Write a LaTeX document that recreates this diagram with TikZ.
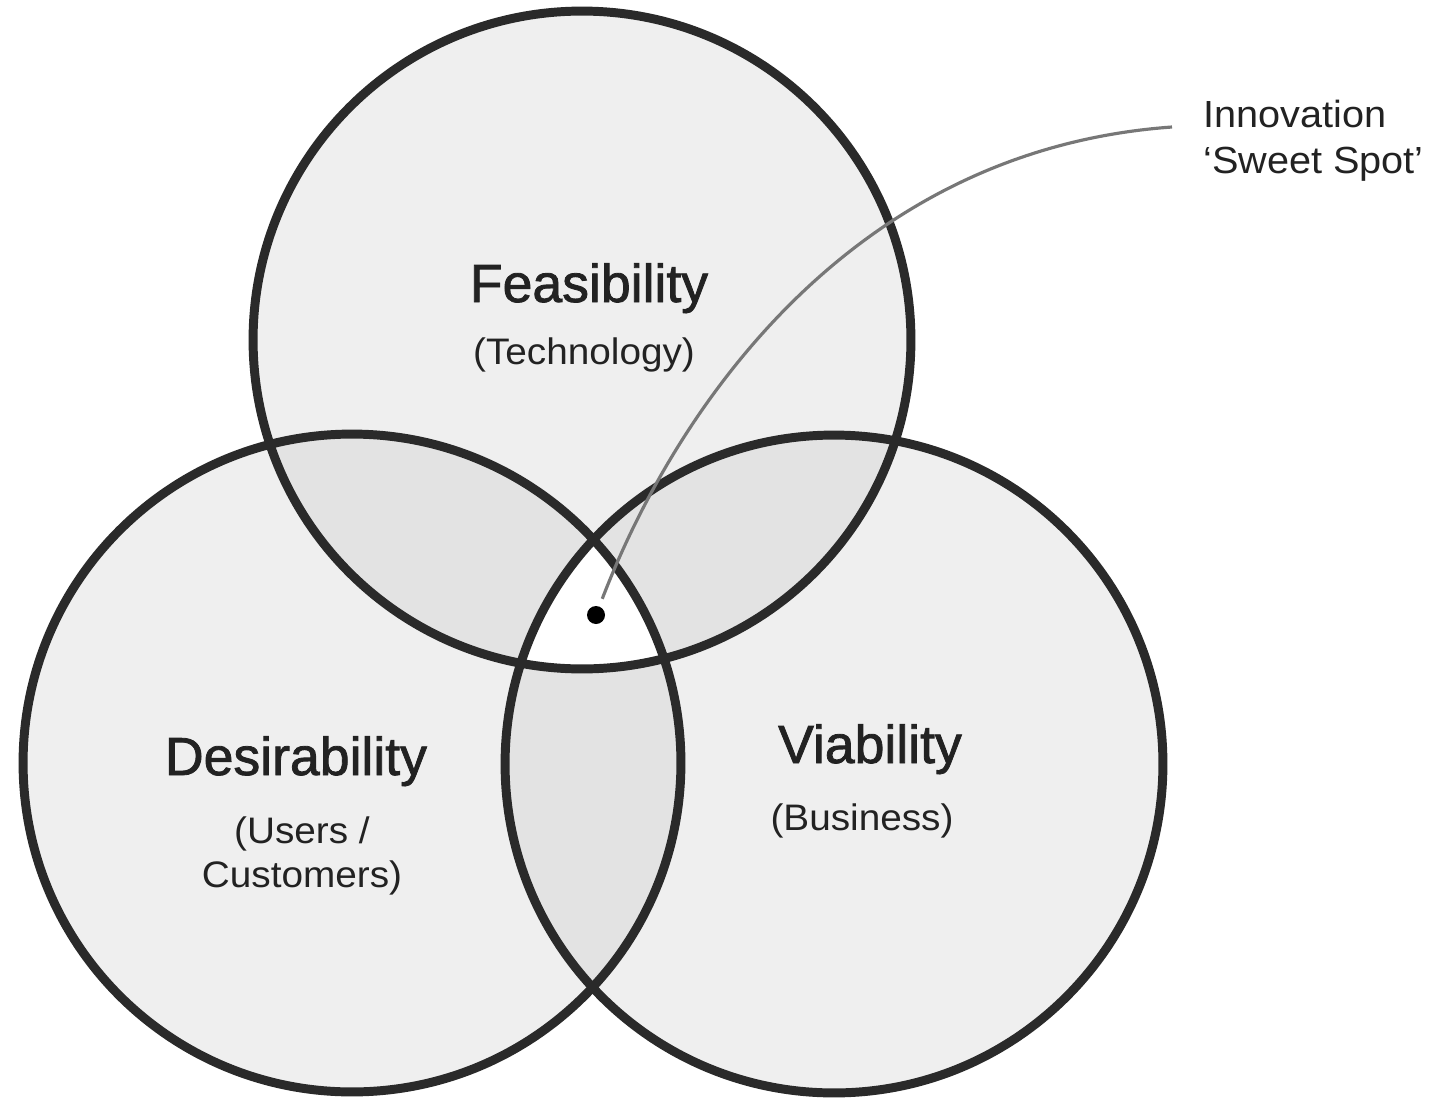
\documentclass[tikz,border=0pt]{standalone}
\usepackage{fontspec}
\setmainfont{Liberation Sans}
\newfontfamily\titlefont{Liberation Sans}[FakeBold=1.5]
\newfontfamily\subfont{Liberation Sans}[FakeStretch=1.05]
\definecolor{ringcol}{HTML}{2A2A2A}
\definecolor{txtcol}{HTML}{222222}
\definecolor{fillone}{HTML}{EFEFEF}
\definecolor{filltwo}{HTML}{E3E3E3}
\definecolor{curvecol}{HTML}{777777}
\tikzset{
  ring/.style={draw=ringcol, line width=5.1pt},
  titletext/.style={text=txtcol, anchor=base, inner sep=0pt, font=\titlefont\fontsize{30.5pt}{36pt}\selectfont},
  subtext/.style={text=txtcol, anchor=base, inner sep=0pt, font=\subfont\fontsize{21pt}{24pt}\selectfont},
  notetext/.style={text=txtcol, anchor=base west, inner sep=0pt, font=\subfont\fontsize{21.5pt}{24pt}\selectfont},
  curve/.style={draw=curvecol, line width=1.8pt},
}
\begin{document}
\begin{tikzpicture}[x=0.02cm,y=-0.02cm]
\useasboundingbox[fill=white] (0,0) rectangle (1430,1102);
\coordinate (cF) at (582,340);
\coordinate (cD) at (352,763);
\coordinate (cV) at (834,764);
\def\R{6.58cm}
% base fills
\fill[fillone] (cF) circle[radius=\R];
\fill[fillone] (cD) circle[radius=\R];
\fill[fillone] (cV) circle[radius=\R];
% pairwise overlaps
\begin{scope}
  \clip (cF) circle[radius=\R];
  \fill[filltwo] (cD) circle[radius=\R];
  \fill[filltwo] (cV) circle[radius=\R];
\end{scope}
\begin{scope}
  \clip (cD) circle[radius=\R];
  \fill[filltwo] (cV) circle[radius=\R];
\end{scope}
% triple overlap
\begin{scope}
  \clip (cF) circle[radius=\R];
  \clip (cD) circle[radius=\R];
  \fill[white] (cV) circle[radius=\R];
\end{scope}
% rings
\node[ring, circle, minimum size=13.16cm, inner sep=0pt] (feas) at (cF) {};
\node[ring, circle, minimum size=13.16cm, inner sep=0pt] (desi) at (cD) {};
\node[ring, circle, minimum size=13.16cm, inner sep=0pt] (viab) at (cV) {};
% labels
\node[titletext] (tF) at (589,302) {Feasibility};
\node[subtext] (sF) at (584,364) {(Technology)};
\node[titletext] (tD) at (296,775) {Desirability};
\node[subtext] (sD1) at (302,843) {(Users /};
\node[subtext] (sD2) at (302,887) {Customers)};
\node[titletext] (tV) at (870,763) {Viability};
\node[subtext] (sV) at (862,830) {(Business)};
\node[notetext] (n1) at (1203,127) {Innovation};
\node[notetext] (n2) at (1203,173) {‘Sweet Spot’};
% sweet spot
\node[circle, fill=black, inner sep=0pt, minimum size=0.36cm] (dot) at (596,615) {};
\coordinate (lblend) at (1172,127);
\draw[curve, shorten <=0.16cm] (dot) .. controls (675,410) and (850,150) .. (lblend);
\end{tikzpicture}
\end{document}
